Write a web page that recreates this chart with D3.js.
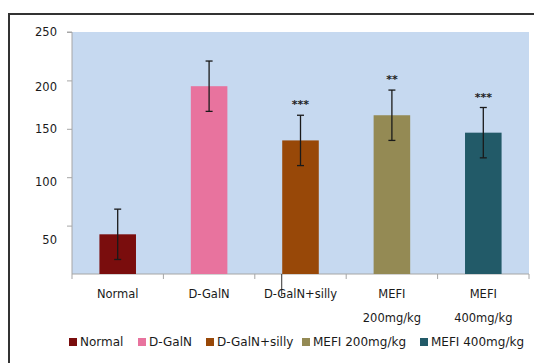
<!DOCTYPE html>
<html>
<head>
<meta charset="utf-8">
<script src="https://cdn.jsdelivr.net/npm/d3@7"></script>
<style>
  html, body { margin: 0; padding: 0; background: #fff; }
  svg { display: block; font-family: "DejaVu Sans", sans-serif; }
</style>
</head>
<body>
<svg id="chart" width="534" height="363"></svg>
<script>
// Group names, means and standard deviations
const categories = ["Normal", "D-GalN", "D-GalN+silly", "MEFI 200mg/kg", "MEFI 400mg/kg"];
const axisLabels = [["Normal"], ["D-GalN"], ["D-GalN+silly"], ["MEFI", "200mg/kg"], ["MEFI", "400mg/kg"]];
const values = [41, 194, 138, 164, 146];
const errors = [26, 26, 26, 26, 26];
const significance = ["", "", "***", "**", "***"];
const yTicks = [50, 100, 150, 200, 250];
const colors = ["#7a0d0d", "#e8739e", "#984808", "#948a54", "#225a68"];

const svg = d3.select("#chart");
const plot = { left: 72, right: 529, top: 32, bottom: 274 };

// outer frame
svg.append("rect")
  .attr("x", 9).attr("y", 14)
  .attr("width", 540).attr("height", 400)
  .attr("fill", "none").attr("stroke", "#333").attr("stroke-width", 2);

const x = d3.scaleBand().domain(categories)
  .range([plot.left, plot.right]).paddingInner(0.6).paddingOuter(0.3);
const y = d3.scaleLinear().domain([0, 250]).range([plot.bottom, plot.top]);

// plot background
svg.append("rect")
  .attr("x", plot.left).attr("y", plot.top)
  .attr("width", plot.right - plot.left).attr("height", plot.bottom - plot.top)
  .attr("fill", "#c6d9f0");

// y axis
const yAxis = svg.append("g")
  .attr("transform", `translate(${plot.left},0)`)
  .call(d3.axisLeft(y).tickValues(yTicks).tickSize(5).tickPadding(10));
yAxis.select(".domain").attr("stroke", "#a6a6a6").attr("d", `M-5,${plot.top}H0V${plot.bottom}`);
yAxis.selectAll(".tick line").attr("stroke", "#a6a6a6");
const labelShift = { 50: 14, 100: 5, 150: 0, 200: 6, 250: 0 };
yAxis.selectAll(".tick text")
  .attr("fill", "#1a1a1a").attr("font-size", 11.5)
  .attr("font-family", "DejaVu Sans, sans-serif")
  .attr("dy", d => (0.32 * 11.5 + labelShift[d]) + "px");

// x axis: ticks sit on category boundaries
const xAxisG = svg.append("g").attr("transform", `translate(0,${plot.bottom})`);
xAxisG.append("line")
  .attr("x1", plot.left).attr("x2", plot.right)
  .attr("stroke", "#a6a6a6");
const edges = categories.map(c => x(c) - (x.step() - x.bandwidth()) / 2);
edges.push(plot.right);
xAxisG.selectAll("line.tick").data(edges).join("line")
  .attr("class", "tick")
  .attr("x1", d => d).attr("x2", d => d)
  .attr("y1", 0).attr("y2", 5)
  .attr("stroke", "#a6a6a6");
// stray marker line under the third group
xAxisG.append("line")
  .attr("x1", x(categories[2]) - 0.5).attr("x2", x(categories[2]) - 0.5)
  .attr("y1", 0).attr("y2", 22)
  .attr("stroke", "#333");

const xl = xAxisG.selectAll("text.lab").data(categories).join("text")
  .attr("class", "lab")
  .attr("x", d => x(d) + x.bandwidth() / 2)
  .attr("text-anchor", "middle")
  .attr("font-size", 11.5).attr("fill", "#1a1a1a");
xl.each(function(d, i) {
  const t = d3.select(this);
  axisLabels[i].forEach((line, j) => {
    t.append("tspan").attr("x", x(d) + x.bandwidth() / 2)
      .attr("y", 24 + j * 24).text(line);
  });
});

// bars
svg.append("g").selectAll("rect").data(categories).join("rect")
  .attr("x", d => x(d))
  .attr("y", (d, i) => y(values[i]))
  .attr("width", x.bandwidth())
  .attr("height", (d, i) => y(0) - y(values[i]))
  .attr("fill", (d, i) => colors[i]);

// error bars with significance marks
const eb = svg.append("g").attr("stroke", "#1a1a1a").attr("stroke-width", 1.3);
categories.forEach((c, i) => {
  const cx = x(c) + x.bandwidth() / 2;
  const top = y(values[i] + errors[i]);
  const bot = y(values[i] - errors[i]);
  eb.append("line").attr("x1", cx).attr("x2", cx).attr("y1", top).attr("y2", bot);
  eb.append("line").attr("x1", cx - 3.5).attr("x2", cx + 3.5).attr("y1", top).attr("y2", top);
  eb.append("line").attr("x1", cx - 3.5).attr("x2", cx + 3.5).attr("y1", bot).attr("y2", bot);
  if (significance[i]) {
    svg.append("text")
      .attr("x", cx).attr("y", top - 7)
      .attr("text-anchor", "middle")
      .attr("font-size", 11).attr("font-weight", "bold").attr("fill", "#222")
      .text(significance[i]);
  }
});

// legend
const legendX = [69, 138, 206, 302, 420];
const lg = svg.append("g").attr("transform", "translate(0,342)");
categories.forEach((c, i) => {
  lg.append("rect").attr("x", legendX[i]).attr("y", -4).attr("width", 8).attr("height", 8)
    .attr("fill", colors[i]);
  lg.append("text").attr("x", legendX[i] + 11).attr("y", 4)
    .attr("font-size", 12).attr("fill", "#1a1a1a").text(c);
});
</script>
</body>
</html>
